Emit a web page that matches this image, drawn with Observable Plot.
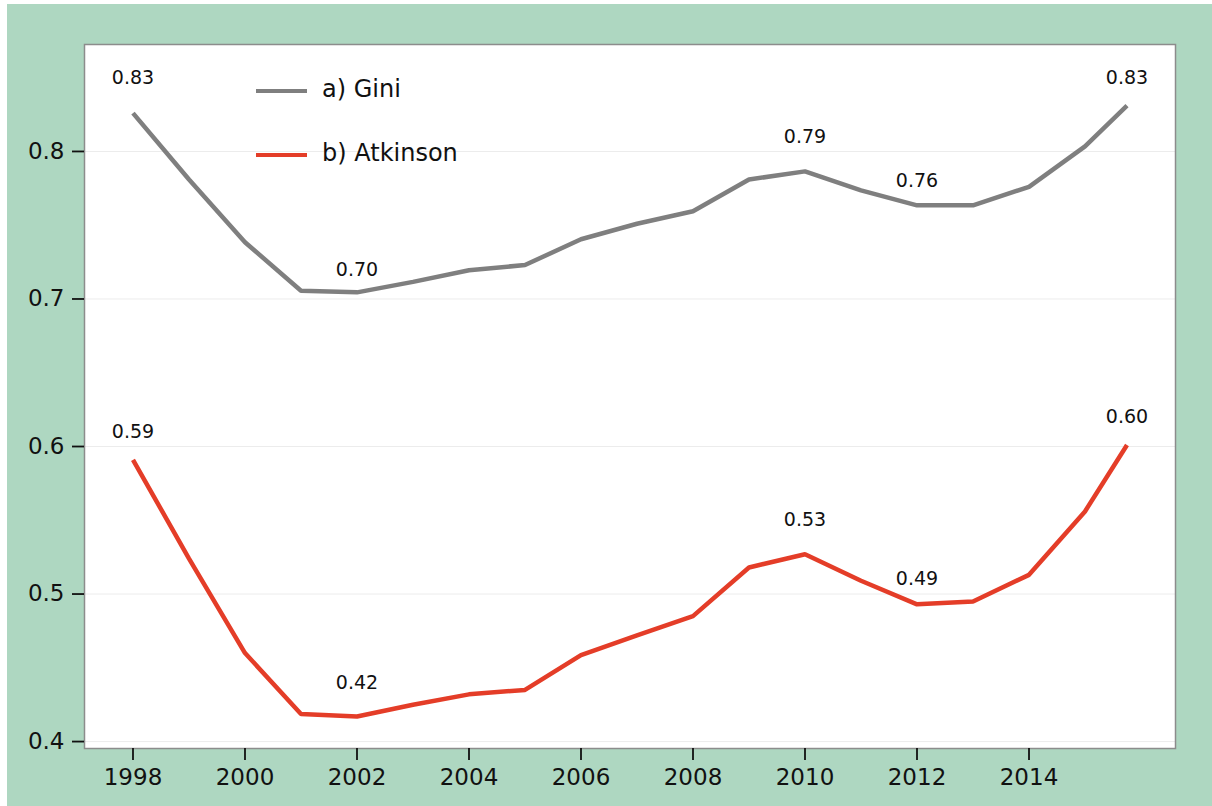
<!DOCTYPE html>
<html>
<head>
<meta charset="utf-8">
<script src="https://cdn.jsdelivr.net/npm/d3@7"></script>
<script src="https://cdn.jsdelivr.net/npm/@observablehq/plot@0.6"></script>
<style>
  html, body { margin: 0; padding: 0; background: #ffffff; }
  #page { position: relative; width: 1212px; height: 806px; overflow: hidden; }
  #bg { position: absolute; left: 7px; top: 4px; right: 0; bottom: 0; background: #aed7c1; }
  #chart { position: absolute; left: 0; top: 0; }
  .leg { position: absolute; font-family: "DejaVu Sans", sans-serif; font-size: 24px; color: #111; line-height: 1; }
  .leg .sw { position: absolute; width: 51px; height: 4px; }
  .leg .lab { position: absolute; white-space: nowrap; }
</style>
</head>
<body>
<div id="page">
  <div id="bg"></div>
  <div id="chart"></div>
  <div id="legend"></div>
</div>
<script>
// ---- data ----
const years = [1998, 1999, 2000, 2001, 2002, 2003, 2004, 2005, 2006, 2007, 2008, 2009, 2010, 2011, 2012, 2013, 2014, 2015, 2015.75];
const gini = [0.826, 0.781, 0.7385, 0.7056, 0.7045, 0.7116, 0.7195, 0.723, 0.7405, 0.751, 0.7595, 0.781, 0.7865, 0.7736, 0.7635, 0.7635, 0.776, 0.8034, 0.831];
const atkinson = [0.591, 0.524, 0.460, 0.4187, 0.417, 0.425, 0.432, 0.435, 0.4586, 0.472, 0.485, 0.518, 0.527, 0.509, 0.493, 0.495, 0.513, 0.556, 0.601];
const seriesNames = ["a) Gini", "b) Atkinson"];
const seriesColors = ["#7f7f7f", "#e43d28"];
const labelYears = [1998, 2002, 2010, 2012, 2015.75];
const xTicks = [1998, 2000, 2002, 2004, 2006, 2008, 2010, 2012, 2014];
const yTicks = [0.4, 0.5, 0.6, 0.7, 0.8];

// ---- build table ----
const rows = [];
years.forEach((yr, i) => {
  rows.push({year: yr, value: gini[i], series: seriesNames[0]});
  rows.push({year: yr, value: atkinson[i], series: seriesNames[1]});
});
const labelRows = rows.filter(d => labelYears.includes(d.year))
  .map(d => ({...d, text: d3.format(".2f")(d.value), pos: +d3.format(".2f")(d.value) + 0.02}));

const font = '"DejaVu Sans", sans-serif';

const chart = Plot.plot({
  width: 1212,
  height: 806,
  marginLeft: 84,
  marginRight: 37,
  marginTop: 44,
  marginBottom: 58,
  style: {background: "transparent", fontFamily: font, color: "#111"},
  x: {domain: [1997.134, 2016.616]},
  y: {domain: [0.3953, 0.8725]},
  color: {domain: seriesNames, range: seriesColors},
  marks: [
    Plot.frame({fill: "white", stroke: null}),
    Plot.gridY(yTicks, {stroke: "#ececec", strokeOpacity: 1, strokeWidth: 1}),
    Plot.frame({stroke: "#8c8c8c", strokeWidth: 1.5}),
    Plot.axisX(xTicks, {tickSize: 12, tickPadding: 8, tickFormat: d => String(d), fontSize: 23, strokeWidth: 1.8, stroke: "#111", fill: "#111", label: null}),
    Plot.axisY(yTicks, {tickSize: 12, tickPadding: 8, tickFormat: d3.format(".1f"), fontSize: 23, strokeWidth: 1.8, stroke: "#111", fill: "#111", label: null}),
    Plot.line(rows, {x: "year", y: "value", z: "series", stroke: "series", strokeWidth: 4.5, strokeLinejoin: "miter", strokeLinecap: "butt"}),
    Plot.text(labelRows, {x: "year", y: "pos", text: "text", fontSize: 19, fill: "#111", textAnchor: "middle"})
  ]
});
document.getElementById("chart").appendChild(chart);

// ---- legend (inside plot area, top-left) ----
const leg = document.getElementById("legend");
seriesNames.forEach((name, i) => {
  const item = document.createElement("div");
  item.className = "leg";
  item.style.left = "256px";
  item.style.top = (89 + i * 64) + "px";
  const sw = document.createElement("div");
  sw.className = "sw";
  sw.style.background = seriesColors[i];
  sw.style.left = "0px";
  sw.style.top = "0px";
  const lab = document.createElement("div");
  lab.className = "lab";
  lab.textContent = name;
  lab.style.left = "66px";
  lab.style.top = "-12px";
  item.appendChild(sw);
  item.appendChild(lab);
  leg.appendChild(item);
});
</script>
</body>
</html>
